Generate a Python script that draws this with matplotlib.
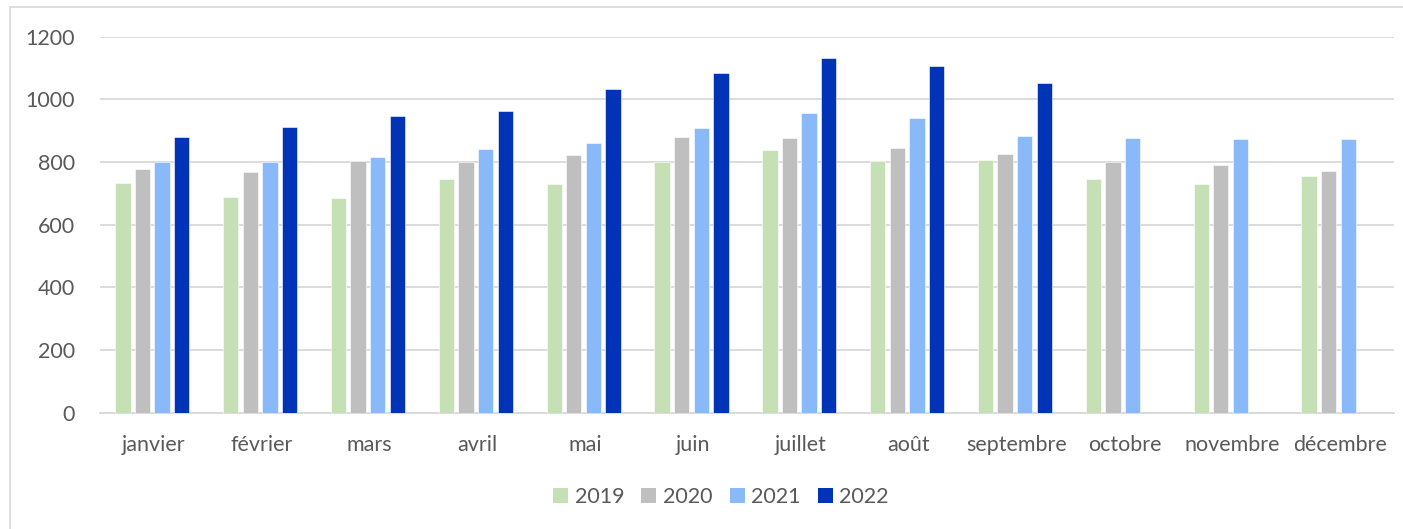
import matplotlib
matplotlib.use("Agg")
import matplotlib.pyplot as plt
from matplotlib.patches import Rectangle, Patch
import numpy as np

months = ["janvier", "février", "mars", "avril", "mai", "juin", "juillet",
          "août", "septembre", "octobre", "novembre", "décembre"]
years = ["2019", "2020", "2021", "2022"]
v2019 = [732, 688, 686, 745, 729, 799, 837, 802, 806, 746, 730, 757]
v2020 = [778, 767, 804, 801, 821, 881, 877, 845, 827, 800, 791, 772]
v2021 = [801, 799, 817, 842, 862, 909, 958, 939, 884, 878, 875, 874]
v2022 = [881, 913, 947, 963, 1033, 1084, 1133, 1107, 1053, None, None, None]
colors = ["#C5E0B4", "#BFBFBF", "#8AB9FA", "#0033B5"]
y_ticks = [0, 200, 400, 600, 800, 1000, 1200]

plt.rcParams["font.family"] = ["Lato", "DejaVu Sans"]
text_color = "#595959"
grid_color = "#D9D9D9"

W, H = 1403, 529
fig = plt.figure(figsize=(W / 100, H / 100), dpi=100)

# chart-area frame
fig.patches.append(Rectangle((10 / W, -0.1), 1.2, (H - 7.5) / H + 0.1,
                             transform=fig.transFigure, fill=False,
                             edgecolor=grid_color, linewidth=1.2))

ax = fig.add_axes([100 / W, (H - 412.7) / H, (1394 - 100) / W, (412.7 - 36.7) / H])

series = [v2019, v2020, v2021, v2022]
x = np.arange(len(months))
slot = 0.182
bar_w = 0.142
shift = -0.015
for i, (vals, col, lab) in enumerate(zip(series, colors, years)):
    xs = [xi + (i - 1.5) * slot + shift for xi, v in zip(x, vals) if v is not None]
    hs = [v for v in vals if v is not None]
    ax.bar(xs, hs, width=bar_w, color=col, edgecolor="white", linewidth=0.4,
           label=lab, zorder=3)

ax.set_xlim(-0.5, len(months) - 0.5)
ax.set_ylim(0, 1200)
ax.set_yticks(y_ticks)
ax.set_xticks(x)
ax.set_xticklabels(months)
ax.tick_params(axis="both", length=0, colors=text_color, labelsize=15.5)
ax.tick_params(axis="x", pad=16)
ax.tick_params(axis="y", pad=18)
ax.grid(axis="y", color=grid_color, linewidth=1.3, zorder=0)
for s in ["top", "right", "left"]:
    ax.spines[s].set_visible(False)
ax.spines["bottom"].set_color(grid_color)
ax.spines["bottom"].set_linewidth(1.3)

handles = [Patch(facecolor=c, edgecolor="none") for c in colors]
fig.legend(handles, years, loc="center", bbox_to_anchor=(721 / W, (H - 497) / H),
           ncol=4, frameon=False, fontsize=15.5, labelcolor=text_color,
           handlelength=0.7, handleheight=0.7, handletextpad=0.3,
           columnspacing=0.8)

fig.savefig("out.png", dpi=100)
